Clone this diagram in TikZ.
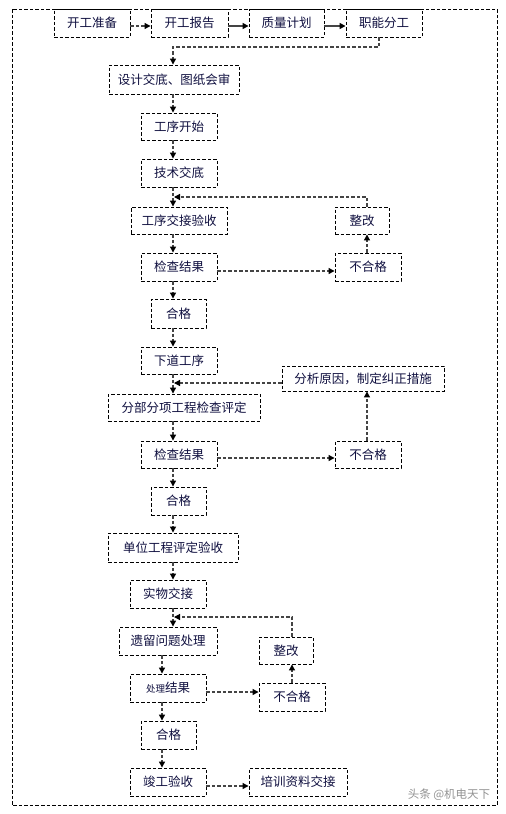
\documentclass[tikz,border=0pt]{standalone}
\usepackage{fontspec}
\setmainfont{Noto Sans CJK SC}
\usetikzlibrary{arrows.meta}
\definecolor{navy}{HTML}{101040}
\definecolor{lgray}{HTML}{444444}
\tikzset{
  box/.style={draw=black, line width=0.9pt, dash pattern=on 3.5pt off 2pt, inner sep=0pt,
              text=navy, font=\fontsize{12.5}{14}\selectfont},
  arr/.style={draw=lgray, line width=1.2pt, dash pattern=on 3.5pt off 2pt,
              -{Triangle[length=6pt,width=6pt,color=black]}},
  sarr/.style={draw=lgray, line width=1.5pt,
              -{Triangle[length=6pt,width=6pt,color=black]}}
}
\begin{document}
\begin{tikzpicture}[x=1pt,y=-1pt]
\useasboundingbox (0,0) rectangle (506,814);
\fill[white] (0,0) rectangle (506,814);
% outer frame
\draw[line width=0.9pt, dash pattern=on 3.5pt off 2pt] (12,9) rectangle (497,805);

% top row
\node[box, minimum width=76pt, minimum height=28pt] (kg1) at (92,23) {开工准备};
\node[box, minimum width=77pt, minimum height=28pt] (kg2) at (189.5,23) {开工报告};
\node[box, minimum width=75pt, minimum height=28pt] (zl) at (286.5,23) {质量计划};
\node[box, minimum width=76pt, minimum height=28pt] (zn) at (384,23) {职能分工};
\node[box, minimum width=130pt, minimum height=29pt] (sj) at (174,79.5) {设计交底、图纸会审};
\node[box, minimum width=76pt, minimum height=27pt] (gk) at (179,126.5) {工序开始};
\node[box, minimum width=76pt, minimum height=28pt] (js) at (179,173) {技术交底};
\node[box, minimum width=96pt, minimum height=27pt] (gj) at (179,220.5) {工序交接验收};
\node[box, minimum width=54pt, minimum height=27pt] (zg1) at (362,220.5) {整改};
\node[box, minimum width=76pt, minimum height=28pt] (jc1) at (179,267) {检查结果};
\node[box, minimum width=66pt, minimum height=28pt] (bh1) at (368,267) {不合格};
\node[box, minimum width=55pt, minimum height=29pt] (hg1) at (178.5,313.5) {合格};
\node[box, minimum width=76pt, minimum height=27pt] (xd) at (179,360.5) {下道工序};
\node[box, minimum width=162pt, minimum height=25pt] (fx) at (363,378.5) {分析原因，制定纠正措施};
\node[box, minimum width=152pt, minimum height=27pt] (fb) at (184,407.5) {分部分项工程检查评定};
\node[box, minimum width=76pt, minimum height=27pt] (jc2) at (179,454.5) {检查结果};
\node[box, minimum width=66pt, minimum height=27pt] (bh2) at (368,454.5) {不合格};
\node[box, minimum width=55pt, minimum height=28pt] (hg2) at (178.5,501) {合格};
\node[box, minimum width=130pt, minimum height=29pt] (dw) at (173,547.5) {单位工程评定验收};
\node[box, minimum width=76pt, minimum height=28pt] (sw) at (168,594) {实物交接};
\node[box, minimum width=98pt, minimum height=28pt] (yl) at (168,641) {遗留问题处理};
\node[box, minimum width=54pt, minimum height=27pt] (zg3) at (286,650.5) {整改};
\node[box, minimum width=76pt, minimum height=28pt] (cl) at (168,688) {{\fontsize{9.5}{12}\selectfont 处理}结果};
\node[box, minimum width=66pt, minimum height=28pt] (bh3) at (292,697) {不合格};
\node[box, minimum width=55pt, minimum height=28pt] (hg3) at (168.5,735) {合格};
\node[box, minimum width=76pt, minimum height=28pt] (jg) at (168,782) {竣工验收};
\node[box, minimum width=98pt, minimum height=28pt] (px) at (298,782) {培训资料交接};

% helper coordinates
\coordinate (vA) at (173,0);
\coordinate (vB) at (367,0);
\coordinate (vC) at (162,0);
\coordinate (vD) at (292,0);
\coordinate (vZ) at (379,0);
\coordinate (hTop) at (0,26);
\coordinate (jA) at (173,47);
\coordinate (loop1) at (174,197);
\coordinate (loop2) at (174,383);
\coordinate (loop3) at (174,617);
\coordinate (h1) at (0,271);
\coordinate (h2) at (0,458);
\coordinate (h3) at (0,692);
\coordinate (h4) at (0,786);

% top row connectors
\draw[arr] (kg1.east |- hTop) -- (kg2.west |- hTop);
\draw[sarr] (kg2.east |- hTop) -- (zl.west |- hTop);
\draw[sarr] (zl.east |- hTop) -- (zn.west |- hTop);
\draw[arr] (zn.south -| vZ) |- (jA) -- (sj.north -| jA);

% main column
\draw[arr] (sj.south -| vA) -- (gk.north -| vA);
\draw[arr] (gk.south -| vA) -- (js.north -| vA);
\draw[arr] (js.south -| vA) -- (gj.north -| vA);
\draw[arr] (gj.south -| vA) -- (jc1.north -| vA);
\draw[arr] (jc1.south -| vA) -- (hg1.north -| vA);
\draw[arr] (hg1.south -| vA) -- (xd.north -| vA);
\draw[arr] (xd.south -| vA) -- (fb.north -| vA);
\draw[arr] (fb.south -| vA) -- (jc2.north -| vA);
\draw[arr] (jc2.south -| vA) -- (hg2.north -| vA);
\draw[arr] (hg2.south -| vA) -- (dw.north -| vA);
\draw[arr] (dw.south -| vA) -- (sw.north -| vA);
\draw[arr] (sw.south -| vA) -- (yl.north -| vA);
\draw[arr] (yl.south -| vC) -- (cl.north -| vC);
\draw[arr] (cl.south -| vC) -- (hg3.north -| vC);
\draw[arr] (hg3.south -| vC) -- (jg.north -| vC);

% loops
\draw[arr] (jc1.east |- h1) -- (bh1.west |- h1);
\draw[arr] (bh1.north -| vB) -- (zg1.south -| vB);
\draw[arr] (zg1.north -| vB) |- (loop1);

\draw[arr] (jc2.east |- h2) -- (bh2.west |- h2);
\draw[arr] (bh2.north -| vB) -- (fx.south -| vB);
\draw[arr] (fx.west |- loop2) -- (loop2);

\draw[arr] (cl.east |- h3) -- (bh3.west |- h3);
\draw[arr] (bh3.north -| vD) -- (zg3.south -| vD);
\draw[arr] (zg3.north -| vD) |- (loop3);

\draw[arr] (jg.east |- h4) -- (px.west |- h4);

% watermark
\node[text=gray!85, font=\fontsize{11.5}{13}\selectfont, inner sep=0pt] (wm) at (449,795) {头条 @机电天下};
\end{tikzpicture}
\end{document}
